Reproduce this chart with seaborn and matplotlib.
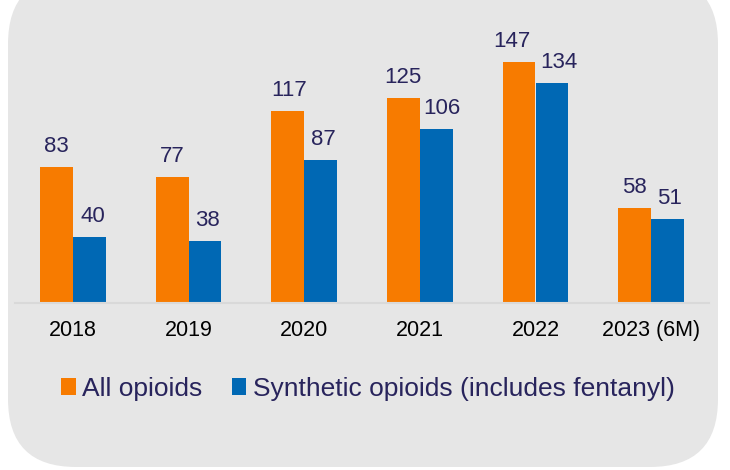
import matplotlib
matplotlib.use("Agg")
import matplotlib.pyplot as plt
import seaborn as sns
import pandas as pd
from matplotlib.patches import FancyBboxPatch, Patch

years = ["2018", "2019", "2020", "2021", "2022", "2023 (6M)"]
all_opioids = [83, 77, 117, 125, 147, 58]
synthetic = [40, 38, 87, 106, 134, 51]
series_names = ["All opioids", "Synthetic opioids (includes fentanyl)"]

# small horizontal nudges (points) of the value labels, as in the reference
nudge_all = [0, 0, 1, 0, -5, 0]
nudge_syn = [2.5, 2, 2, 4, 5, 1]

ORANGE = "#F77B00"
BLUE = "#0068B4"
NAVY = "#28245C"
BG = "#E6E6E6"

df = pd.DataFrame({
    "year": years * 2,
    "value": all_opioids + synthetic,
    "series": [series_names[0]] * len(years) + [series_names[1]] * len(years),
})

sns.set_theme(style="white")
plt.rcParams["font.family"] = ["Liberation Sans", "DejaVu Sans"]

fig = plt.figure(figsize=(7.3, 4.7), dpi=100, facecolor="white")

# background rounded panel
bgax = fig.add_axes([0, 0, 1, 1], zorder=0)
bgax.set_xlim(0, 730)
bgax.set_ylim(470, 0)
bgax.axis("off")
bgax.add_patch(FancyBboxPatch((8, -24), 710, 491,
                              boxstyle="round,pad=0,rounding_size=68",
                              facecolor=BG, edgecolor="none"))

ax = fig.add_axes([15 / 730, (470 - 303) / 470, 694 / 730, 283 / 470], zorder=1)
ax.patch.set_alpha(0)
sns.barplot(data=df, x="year", y="value", hue="series", order=years,
            hue_order=series_names, palette=[ORANGE, BLUE],
            width=0.57, gap=0, linewidth=0, saturation=1, ax=ax, legend=False)

for cont, nudges in zip(ax.containers, [nudge_all, nudge_syn]):
    for bar, dx in zip(cont, nudges):
        h = bar.get_height()
        ax.annotate(f"{h:.0f}", (bar.get_x() + bar.get_width() / 2, h),
                    xytext=(dx, 10.8), textcoords="offset points",
                    ha="center", va="baseline", color=NAVY, fontsize=16)

ax.set_xlim(-0.5, 5.5)
ax.set_ylim(0, 283 / 1.64)
ax.set_xlabel("")
ax.set_ylabel("")
ax.set_yticks([])
for s in ["top", "right", "left"]:
    ax.spines[s].set_visible(False)
ax.spines["bottom"].set_color("#D9D9D9")
ax.spines["bottom"].set_linewidth(1.5)
ax.tick_params(axis="x", length=0, pad=12, labelsize=15.5, labelcolor="black")

handles = [Patch(facecolor=ORANGE, edgecolor="none"),
           Patch(facecolor=BLUE, edgecolor="none")]
leg = fig.legend(handles, series_names, loc="center", ncol=2,
                 bbox_to_anchor=(368 / 730, (470 - 389) / 470),
                 frameon=False, fontsize=19, handlelength=0.55,
                 handleheight=0.6, handletextpad=0.25, columnspacing=1.1,
                 borderaxespad=0)
for t in leg.get_texts():
    t.set_color(NAVY)

fig.savefig("out.png", dpi=100, facecolor="white")
